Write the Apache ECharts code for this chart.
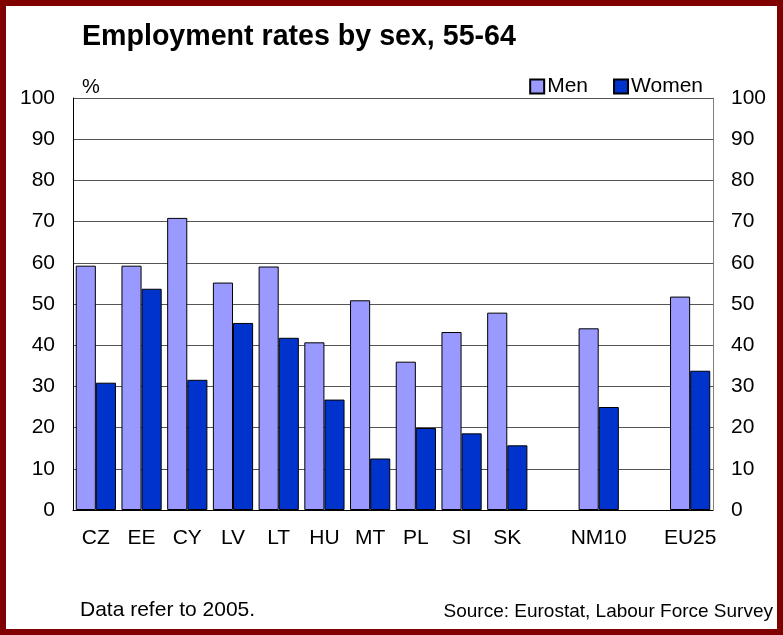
<!DOCTYPE html>
<html>
<head>
<meta charset="utf-8">
<script src="https://cdn.jsdelivr.net/npm/echarts@6/dist/echarts.min.js"></script>
<style>
  html, body { margin: 0; padding: 0; background: #fff; }
  #chart { width: 783px; height: 635px; }
</style>
</head>
<body>
<div id="chart"></div>
<script>
// Employment rates of people aged 55-64, by sex (%), 2005
const categories = ['CZ', 'EE', 'CY', 'LV', 'LT', 'HU', 'MT', 'PL', 'SI', 'SK', '', 'NM10', '', 'EU25'];
const men   = [59.3, 59.3, 70.9, 55.2, 59.1, 40.7, 50.9, 36.0, 43.2, 47.9, null, 44.1, null, 51.8];
const women = [30.9, 53.7, 31.6, 45.4, 41.8, 26.8, 12.5, 19.9, 18.6, 15.7, null, 25.0, null, 33.8];
const seriesNames = ['Men', 'Women'];
const titleText = 'Employment rates by sex, 55-64';
const unitText = '%';
const noteText = 'Data refer to 2005.';
const sourceText = 'Source: Eurostat, Labour Force Survey';

const FONT = '"Liberation Sans", Arial, sans-serif';
const chart = echarts.init(document.getElementById('chart'), null, { renderer: 'canvas' });

const valueAxis = (pos) => ({
  type: 'value',
  position: pos,
  min: 0,
  max: 100,
  interval: 10,
  axisLine: { show: true, lineStyle: { color: pos === 'left' ? '#000' : '#808080', width: 1 } },
  axisTick: { show: false },
  axisLabel: { show: true, margin: 18, color: '#000', fontSize: 21, fontFamily: FONT },
  splitLine: { show: pos === 'left', lineStyle: { color: '#555', width: 1 } }
});

chart.setOption({
  animation: false,
  backgroundColor: '#fff',
  textStyle: { fontFamily: FONT },
  title: {
    text: titleText,
    left: 77,
    top: 18,
    textStyle: { fontFamily: FONT, fontSize: 28.6, fontWeight: 'bold', color: '#000' }
  },
  legend: {
    data: seriesNames,
    right: 75,
    top: 71,
    itemWidth: 14,
    itemHeight: 14,
    itemGap: 25,
    icon: 'rect',
    textStyle: { fontFamily: FONT, fontSize: 21, color: '#000', padding: [0, 0, 0, -2] }
  },
  grid: { left: 73, right: 70, top: 98, bottom: 125, containLabel: false },
  xAxis: {
    type: 'category',
    data: categories,
    axisLine: { show: true, lineStyle: { color: '#000', width: 1 } },
    axisTick: { show: false },
    axisLabel: { margin: 18, color: '#000', fontSize: 21, fontFamily: FONT, interval: 0 }
  },
  yAxis: [valueAxis('left'), valueAxis('right')],
  series: [
    {
      name: seriesNames[0],
      type: 'bar',
      data: men,
      barGap: '0%',
      barCategoryGap: '12%',
      itemStyle: { color: '#9999FF', borderColor: '#000', borderWidth: 1 }
    },
    {
      name: seriesNames[1],
      type: 'bar',
      data: women,
      barGap: '0%',
      barCategoryGap: '12%',
      itemStyle: { color: '#0033CC', borderColor: '#000', borderWidth: 1 }
    }
  ],
  graphic: [
    {
      type: 'rect',
      shape: { x: 3, y: 3, width: 777, height: 629 },
      style: { fill: 'none', stroke: '#800000', lineWidth: 6 },
      silent: true
    },
    {
      type: 'text',
      left: 82,
      top: 77,
      style: { text: unitText, fontFamily: FONT, fontSize: 20, fill: '#000' }
    },
    {
      type: 'text',
      left: 80,
      top: 600,
      style: { text: noteText, fontFamily: FONT, fontSize: 21, fill: '#000' }
    },
    {
      type: 'text',
      right: 10,
      top: 602,
      style: { text: sourceText, fontFamily: FONT, fontSize: 19, fill: '#000' }
    }
  ]
});
</script>
</body>
</html>
